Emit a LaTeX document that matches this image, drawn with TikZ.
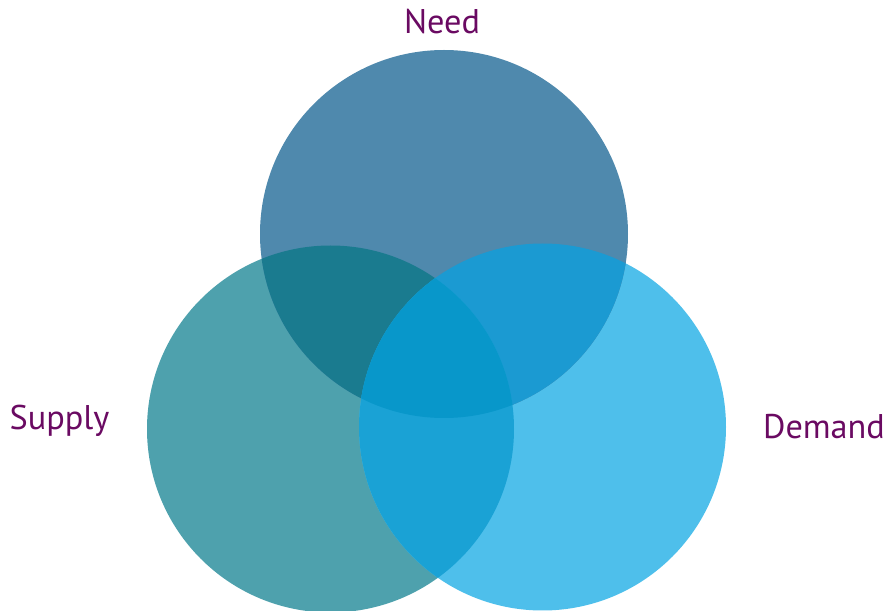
\documentclass[tikz,border=0pt]{standalone}
\usepackage{fontspec}
\setmainfont{PT Sans}
\usepackage{tikz}
\definecolor{needblue}{HTML}{4F89AD}
\definecolor{supplyteal}{HTML}{4EA1AD}
\definecolor{demandsky}{HTML}{4EBFEB}
\definecolor{needsupply}{HTML}{1A7B8F}
\definecolor{needdemand}{HTML}{1B9AD2}
\definecolor{supplydemand}{HTML}{1AA2D5}
\definecolor{allthree}{HTML}{0897CA}
\definecolor{labelpurple}{HTML}{6A0A62}
\tikzset{
    venn label/.style={text=labelpurple, font=\fontsize{19.5}{22}\selectfont, inner sep=0pt},
}

\begin{document}
\begin{tikzpicture}[x=0.02cm, y=-0.02cm]
\useasboundingbox (0,0) rectangle (887,611);
\fill[supplyteal] (330.5,429) circle (183.5);
\fill[demandsky] (542.5,427) circle (183.5);
\fill[needblue] (444,234) circle (184);

\begin{scope}
\clip (444,234) circle (184);
\fill[needsupply] (330.5,429) circle (183.5);
\fill[needdemand] (542.5,427) circle (183.5);
\end{scope}
\begin{scope}
\clip (330.5,429) circle (183.5);
\fill[supplydemand] (542.5,427) circle (183.5);
\clip (444,234) circle (184);
\fill[allthree] (542.5,427) circle (183.5);
\end{scope}

\node[venn label] (need) at (442,22) {Need};
\node[venn label] (supply) at (59.5,421) {Supply};
\node[venn label] (demand) at (824,427) {Demand};
\end{tikzpicture}
\end{document}
